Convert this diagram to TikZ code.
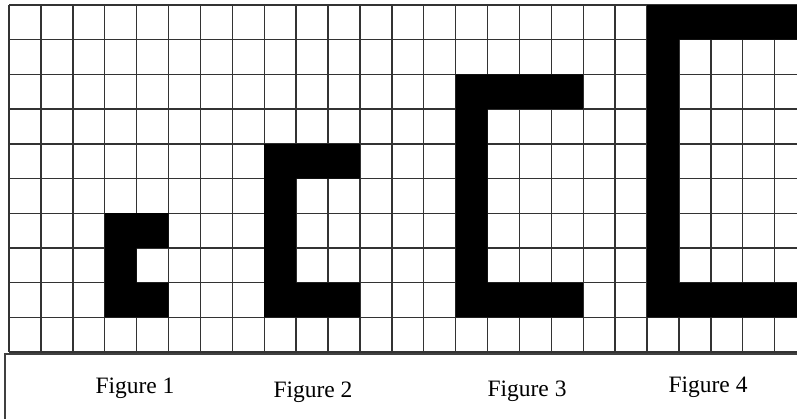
\documentclass[tikz,border=0pt]{standalone}
\usepackage{fontspec}
\setmainfont{Liberation Serif}
\begin{document}
\begin{tikzpicture}[x=1pt,y=-1pt,
  gridline/.style={draw=black!80, line width=1.4pt},
  shapefill/.style={fill=black},
  boxline/.style={draw=black!75, line width=1.6pt},
  figlabel/.style={anchor=base, inner sep=0pt, font=\fontsize{23.5}{28}\selectfont}]
\useasboundingbox (0,0) rectangle (797,418);
\clip (0,0) rectangle (797,418);
\begin{scope}[shift={(9,5)}, x=31.9pt, y=-34.7pt]
  \foreach \c in {0,...,24} \draw[gridline] (\c,0) -- (\c,10);
  \foreach \r in {0,...,10} \draw[gridline] (0,\r) -- (24.8,\r);
  % Figure 1
  \fill[shapefill] (3,6) -- (5,6) -- (5,7) -- (4,7) -- (4,8) -- (5,8) -- (5,9) -- (3,9) -- cycle;
  % Figure 2
  \fill[shapefill] (8,4) -- (11,4) -- (11,5) -- (9,5) -- (9,8) -- (11,8) -- (11,9) -- (8,9) -- cycle;
  % Figure 3
  \fill[shapefill] (14,2) -- (18,2) -- (18,3) -- (15,3) -- (15,8) -- (18,8) -- (18,9) -- (14,9) -- cycle;
  % Figure 4
  \fill[shapefill] (20,0) -- (25,0) -- (25,1) -- (21,1) -- (21,8) -- (25,8) -- (25,9) -- (20,9) -- cycle;
\end{scope}
% label box
\draw[boxline] (5,420) -- (5,354) -- (800,354);
\node[figlabel] (f1) at (135,393.3) {Figure 1};
\node[figlabel] (f2) at (313,397.3) {Figure 2};
\node[figlabel] (f3) at (527,396) {Figure 3};
\node[figlabel] (f4) at (708,392.3) {Figure 4};
\end{tikzpicture}
\end{document}
